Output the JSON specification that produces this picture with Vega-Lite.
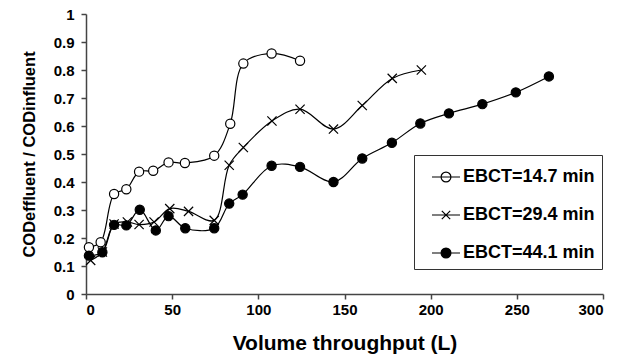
{
  "$schema": "https://vega.github.io/schema/vega-lite/v6.json",
  "autosize": {"type": "none"},
  "width": 517,
  "height": 280,
  "padding": {"left": 86, "top": 14, "right": 18, "bottom": 60},
  "background": "white",
  "config": {
    "view": {"stroke": null},
    "font": "Liberation Sans",
    "axis": {
      "grid": false,
      "domainColor": "#444",
      "domainWidth": 1.5,
      "tickColor": "#444",
      "tickWidth": 1.5,
      "tickSize": 5,
      "labelFont": "Liberation Sans",
      "labelFontWeight": "bold",
      "labelFontSize": 15,
      "labelColor": "black",
      "titleFont": "Liberation Sans",
      "titleFontWeight": "bold",
      "titleColor": "black"
    }
  },
  "data": {
    "values": [
      {"series": "EBCT=14.7 min", "v": 1.7, "r": 0.167},
      {"series": "EBCT=14.7 min", "v": 8.5, "r": 0.185},
      {"series": "EBCT=14.7 min", "v": 16.3, "r": 0.357},
      {"series": "EBCT=14.7 min", "v": 23.4, "r": 0.374},
      {"series": "EBCT=14.7 min", "v": 30.8, "r": 0.437},
      {"series": "EBCT=14.7 min", "v": 39.0, "r": 0.44},
      {"series": "EBCT=14.7 min", "v": 47.9, "r": 0.47},
      {"series": "EBCT=14.7 min", "v": 57.4, "r": 0.468},
      {"series": "EBCT=14.7 min", "v": 74.4, "r": 0.494},
      {"series": "EBCT=14.7 min", "v": 83.7, "r": 0.608},
      {"series": "EBCT=14.7 min", "v": 91.3, "r": 0.823},
      {"series": "EBCT=14.7 min", "v": 107.7, "r": 0.859},
      {"series": "EBCT=14.7 min", "v": 124.2, "r": 0.833},
      {"series": "EBCT=29.4 min", "v": 2.7, "r": 0.12},
      {"series": "EBCT=29.4 min", "v": 9.5, "r": 0.15},
      {"series": "EBCT=29.4 min", "v": 16.3, "r": 0.25},
      {"series": "EBCT=29.4 min", "v": 24.0, "r": 0.257},
      {"series": "EBCT=29.4 min", "v": 30.8, "r": 0.248},
      {"series": "EBCT=29.4 min", "v": 39.5, "r": 0.257},
      {"series": "EBCT=29.4 min", "v": 48.6, "r": 0.305},
      {"series": "EBCT=29.4 min", "v": 59.5, "r": 0.295},
      {"series": "EBCT=29.4 min", "v": 74.4, "r": 0.263},
      {"series": "EBCT=29.4 min", "v": 83.1, "r": 0.46},
      {"series": "EBCT=29.4 min", "v": 91.3, "r": 0.523},
      {"series": "EBCT=29.4 min", "v": 107.9, "r": 0.618},
      {"series": "EBCT=29.4 min", "v": 124.2, "r": 0.66},
      {"series": "EBCT=29.4 min", "v": 143.6, "r": 0.589},
      {"series": "EBCT=29.4 min", "v": 160.3, "r": 0.673},
      {"series": "EBCT=29.4 min", "v": 177.7, "r": 0.77},
      {"series": "EBCT=29.4 min", "v": 194.6, "r": 0.8},
      {"series": "EBCT=44.1 min", "v": 1.7, "r": 0.137},
      {"series": "EBCT=44.1 min", "v": 9.5, "r": 0.149},
      {"series": "EBCT=44.1 min", "v": 16.3, "r": 0.247},
      {"series": "EBCT=44.1 min", "v": 23.4, "r": 0.245},
      {"series": "EBCT=44.1 min", "v": 31.2, "r": 0.301},
      {"series": "EBCT=44.1 min", "v": 40.5, "r": 0.227},
      {"series": "EBCT=44.1 min", "v": 47.9, "r": 0.278},
      {"series": "EBCT=44.1 min", "v": 57.6, "r": 0.235},
      {"series": "EBCT=44.1 min", "v": 74.4, "r": 0.235},
      {"series": "EBCT=44.1 min", "v": 83.1, "r": 0.323},
      {"series": "EBCT=44.1 min", "v": 90.9, "r": 0.355},
      {"series": "EBCT=44.1 min", "v": 107.7, "r": 0.458},
      {"series": "EBCT=44.1 min", "v": 124.2, "r": 0.454},
      {"series": "EBCT=44.1 min", "v": 143.6, "r": 0.4},
      {"series": "EBCT=44.1 min", "v": 160.3, "r": 0.484},
      {"series": "EBCT=44.1 min", "v": 177.5, "r": 0.54},
      {"series": "EBCT=44.1 min", "v": 194.0, "r": 0.609},
      {"series": "EBCT=44.1 min", "v": 210.6, "r": 0.645},
      {"series": "EBCT=44.1 min", "v": 230.0, "r": 0.678},
      {"series": "EBCT=44.1 min", "v": 249.4, "r": 0.72},
      {"series": "EBCT=44.1 min", "v": 268.6, "r": 0.777}
    ]
  },
  "encoding": {
    "x": {
      "field": "v", "type": "quantitative",
      "scale": {"domain": [0, 300], "nice": false, "zero": false},
      "axis": {"values": [0, 50, 100, 150, 200, 250, 300], "title": "Volume throughput (L)", "titleFontSize": 21, "titlePadding": 15, "labelPadding": 3}
    },
    "y": {
      "field": "r", "type": "quantitative",
      "scale": {"domain": [0, 1], "nice": false},
      "axis": {"values": [0, 0.1, 0.2, 0.3, 0.4, 0.5, 0.6, 0.7, 0.8, 0.9, 1], "format": ".1~f", "title": "CODeffluent / CODinfluent", "titleFontSize": 16.5, "titlePadding": 16, "labelPadding": 7}
    }
  },
  "resolve": {"scale": {"shape": "independent", "fill": "independent"}},
  "layer": [
    {
      "mark": {"type": "line", "interpolate": "catmull-rom", "color": "black", "strokeWidth": 1.2},
      "encoding": {"detail": {"field": "series", "type": "nominal"}}
    },
    {
      "mark": {"type": "point", "filled": false, "stroke": "black", "strokeWidth": 1.2, "size": 85, "opacity": 1},
      "encoding": {
        "shape": {
          "field": "series", "type": "nominal",
          "scale": {"domain": ["EBCT=14.7 min", "EBCT=29.4 min", "EBCT=44.1 min"], "range": ["circle", "M-1,-1L1,1M-1,1L1,-1", "circle"]},
          "legend": null
        },
        "fill": {
          "field": "series", "type": "nominal",
          "scale": {"domain": ["EBCT=14.7 min", "EBCT=29.4 min", "EBCT=44.1 min"], "range": ["white", "transparent", "black"]},
          "legend": null
        }
      }
    },
    {
      "mark": {"type": "point", "filled": false, "stroke": "black", "strokeWidth": 1.2, "size": 0, "opacity": 0},
      "encoding": {
        "shape": {
          "field": "series", "type": "nominal",
          "scale": {"domain": ["EBCT=14.7 min", "EBCT=29.4 min", "EBCT=44.1 min"], "range": ["M-1,0L1,0M-0.35,0A0.35,0.35 0 1,0 0.35,0A0.35,0.35 0 1,0 -0.35,0", "M-1,0L1,0M-0.3,-0.3L0.3,0.3M-0.3,0.3L0.3,-0.3", "M-1,0L1,0M-0.35,0A0.35,0.35 0 1,0 0.35,0A0.35,0.35 0 1,0 -0.35,0"]},
          "legend": {
            "title": null,
            "orient": "none",
            "legendX": 328,
            "legendY": 141,
            "strokeColor": "#333",
            "padding": 7,
            "symbolOffset": 10,
            "symbolSize": 784,
            "symbolOpacity": 1,
            "symbolStrokeColor": "black",
            "symbolStrokeWidth": 1.2,
            "rowPadding": 14,
            "labelOffset": 2,
            "labelFont": "Liberation Sans",
            "labelFontWeight": "bold",
            "labelFontSize": 18,
            "labelColor": "black",
            "labelLimit": 300,
            "encoding": {
              "symbols": {
                "stroke": {"value": "black"},
                "strokeWidth": {"value": 1.2},
                "opacity": {"value": 1}
              }
            }
          }
        },
        "fill": {
          "field": "series", "type": "nominal",
          "scale": {"domain": ["EBCT=14.7 min", "EBCT=29.4 min", "EBCT=44.1 min"], "range": ["white", "transparent", "black"]},
          "legend": {
            "title": null,
            "orient": "none",
            "legendX": 328,
            "legendY": 141,
            "strokeColor": "#333",
            "padding": 7,
            "symbolOffset": 10,
            "symbolSize": 784,
            "symbolOpacity": 1,
            "symbolStrokeColor": "black",
            "symbolStrokeWidth": 1.2,
            "rowPadding": 14,
            "labelOffset": 2,
            "labelFont": "Liberation Sans",
            "labelFontWeight": "bold",
            "labelFontSize": 18,
            "labelColor": "black",
            "labelLimit": 300,
            "encoding": {
              "symbols": {
                "stroke": {"value": "black"},
                "strokeWidth": {"value": 1.2},
                "opacity": {"value": 1}
              }
            }
          }
        }
      }
    }
  ]
}
